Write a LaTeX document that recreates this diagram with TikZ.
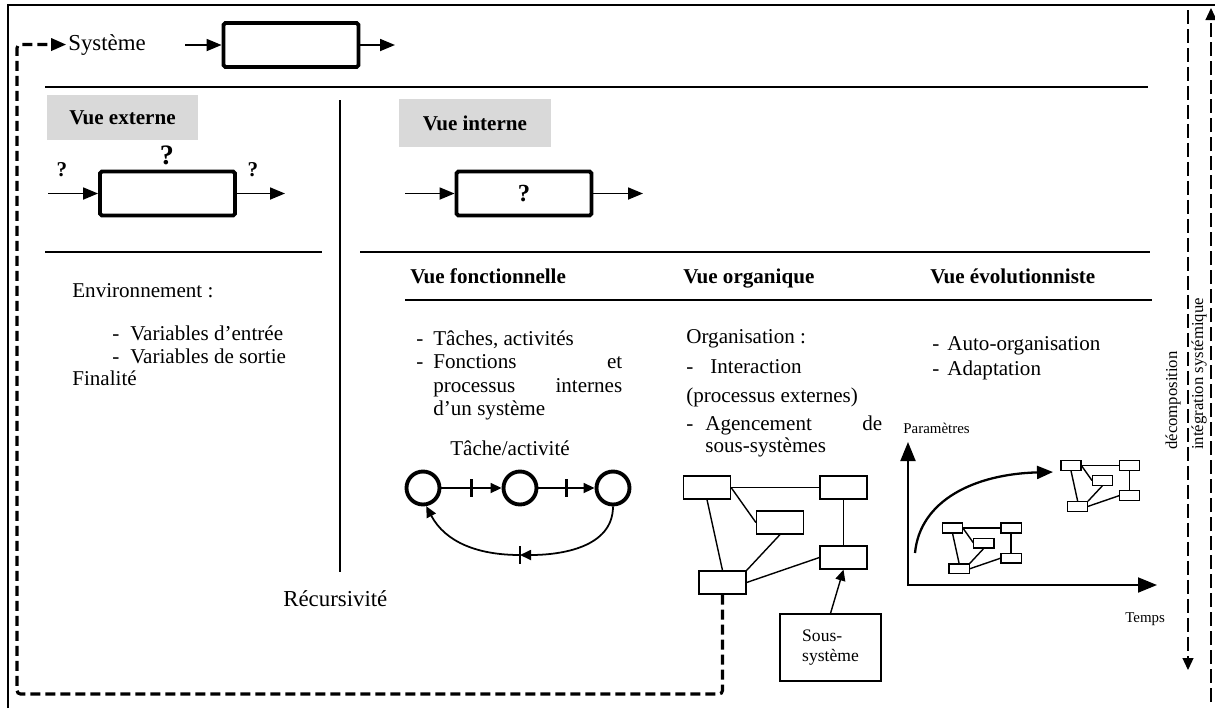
\documentclass[tikz,border=0pt]{standalone}
\usepackage{fontspec}
\setmainfont{Liberation Serif}
\usepackage{tikz}
\usetikzlibrary{arrows.meta}
\tikzset{
	big box/.style={draw,line width=2.2pt,rounded corners=1pt,minimum width=2.7cm,
		minimum height=0.88cm,inner sep=0pt},
	view head/.style={fill=black!15,font=\fontsize{12}{14}\selectfont\bfseries,
		minimum width=3.02cm,minimum height=0.9cm},
	place node/.style={circle,draw,line width=2.2pt,minimum size=0.66cm,inner sep=0pt},
	sub box/.style={draw,line width=0.7pt,minimum width=0.94cm,minimum height=0.46cm,inner sep=0pt},
	txt/.style={font=\fontsize{12}{14}\selectfont,inner sep=0pt,anchor=base west},
	head txt/.style={txt,font=\fontsize{12}{14}\selectfont\bfseries},
	small txt/.style={txt,font=\fontsize{8.5}{10}\selectfont},
	side txt/.style={rotate=90,anchor=west,inner sep=0pt,font=\fontsize{9.5}{11}\selectfont},
	bar/.style={fill,inner sep=0pt,minimum width=1.2pt,minimum height=0.36cm},
	rec line/.style={line width=1.8pt,dash pattern=on 0.2cm off 0.1cm,rounded corners=2pt},
	side line/.style={line width=0.7pt,dash pattern=on 0.28cm off 0.1cm,
		>={Triangle[length=0.24cm,width=0.22cm]}},
	small tip/.style={>={Triangle[length=0.22cm,width=0.2cm]}},
	large tip/.style={>={Triangle[length=0.38cm,width=0.3cm]}}
}
\newcommand{\tiret}[1]{\makebox[#1][l]{-}}
\newcommand{\subnet}[3]{%
	\begin{scope}[shift={#2},scale=#3,transform shape,line width=0.8pt]
		\node[sub box] (#1a) at (0,0) {};
		\node[sub box] (#1b) at (136.5,0) {};
		\node[sub box] (#1c) at (73,35) {};
		\node[sub box] (#1d) at (136.5,70) {};
		\node[sub box] (#1e) at (15.5,95) {};
		\draw (#1a.east) -- (#1b.west);
		\draw (#1a.east) -- (#1c.west);
		\draw (#1a.south) -- (#1e.north);
		\draw (#1c.south) -- (#1e.north east);
		\draw (#1e.east) -- (#1d.west);
		\draw (#1b.south) -- (#1d.north);
	\end{scope}}

\begin{document}
\begin{tikzpicture}[x=0.02cm,y=-0.02cm,>={Triangle[length=0.3cm,width=0.24cm]}]
	\useasboundingbox (0,0) rectangle (1215,708);
	\draw[line width=0.8pt] (8,708) -- (8,5) -- (1215,5);

	\node[txt,font=\fontsize{13}{15}\selectfont] (sys) at (68,50) {Système};
	\node[big box] (box) at (291,45) {};
	\coordinate (boxin) at (185,45);
	\coordinate (boxout) at (395,45);
	\draw[->,line width=1pt] (boxin) -- (box);
	\draw[->,line width=1pt] (box) -- (boxout);

	\draw[line width=1.1pt] (45,87) -- (1148,87);
	\draw[line width=1.1pt] (45,252) -- (322,252);
	\draw[line width=1.1pt] (360,252) -- (1150,252);
	\draw[line width=1.1pt] (405,300) -- (1152,300);
	\draw[line width=0.9pt] (340,100) -- (340,572);

	\node[view head] (ext) at (122.5,117.5) {Vue externe};
	\node[big box] (extbox) at (167.5,193.5) {};
	\coordinate (extin) at (48,193.5);
	\coordinate (extout) at (285,193.5);
	\draw[->,line width=1pt] (extin) -- (extbox);
	\draw[->,line width=1pt] (extbox) -- (extout);
	\node[font=\fontsize{12}{14}\selectfont\bfseries] (q1) at (62,170) {?};
	\node[font=\fontsize{16}{18}\selectfont\bfseries] (q2) at (167,155) {?};
	\node[font=\fontsize{12}{14}\selectfont\bfseries] (q3) at (253,170) {?};

	\node[view head,minimum width=3.04cm,minimum height=0.96cm] (int) at (475,123) {Vue interne};
	\node[big box,font=\fontsize{14}{16}\selectfont\bfseries] (intbox) at (524,193.5) {?};
	\coordinate (intin) at (405,193.5);
	\coordinate (intout) at (643,193.5);
	\draw[->,line width=1pt] (intin) -- (intbox);
	\draw[->,line width=1pt] (intbox) -- (intout);

	\node[txt] (env) at (72,297) {Environnement :};
	\node[txt] (var1) at (112,340) {\tiret{0.36cm}Variables d'entrée};
	\node[txt] (var2) at (112,363) {\tiret{0.36cm}Variables de sortie};
	\node[txt] (fin) at (72,385) {Finalité};

	\node[head txt] (fonc) at (410,283) {Vue fonctionnelle};
	\node[txt] (f1) at (416,345) {\tiret{0.34cm}Tâches, activités};
	\node[txt] (f2) at (416,368) {\tiret{0.34cm}\makebox[3.78cm]{Fonctions\hfill et}};
	\node[txt] (f3) at (433,392) {\makebox[3.78cm]{processus\hfill internes}};
	\node[txt] (f4) at (433,415) {d'un système};
	\node[txt,anchor=base] (tache) at (510,455) {Tâche/activité};
	\node[place node] (p1) at (423,488) {};
	\node[place node] (p2) at (520,488) {};
	\node[place node] (p3) at (613,488) {};
	\draw[->,line width=1pt,small tip] (p1) -- node[bar] (t1) {} (p2);
	\draw[->,line width=1pt,small tip] (p2) -- node[bar] (t2) {} (p3);
	\coordinate (loopmid) at (520,555);
	\draw[->,line width=1pt,small tip] (p3.south) to[out=-90,in=0] (loopmid);
	\draw[->,line width=1pt,small tip] (loopmid) to[out=180,in=-62] (p1.-80);
	\node[bar] (t3) at (loopmid) {};

	\node[head txt] (orga) at (683,283) {Vue organique};
	\node[txt] (o1) at (686,343) {Organisation :};
	\node[txt] (o2) at (686,373) {\tiret{0.48cm}Interaction};
	\node[txt] (o3) at (686,402) {(processus externes)};
	\node[txt] (o4) at (686,430) {\tiret{0.38cm}\makebox[3.54cm]{Agencement\hfill de}};
	\node[txt] (o5) at (705,452) {sous-systèmes};
	\subnet{org}{(707,487.5)}{1}
	\node[sub box,minimum width=2.02cm,minimum height=1.34cm,align=left,
		font=\fontsize{10}{11.3}\selectfont] (sous) at (830.5,647.5) {Sous-\\système};
	\draw[->,line width=0.8pt,small tip] (sous.north) -- (orgd.south);

	\coordinate (recbas) at (17,694);
	\draw[->,rec line,shorten >=1pt] (orge.south) |- (recbas) |- (sys.west);
	\node[txt,font=\fontsize{13}{15}\selectfont] (rec) at (283,606) {Récursivité};

	\node[head txt] (evo) at (930,283) {Vue évolutionniste};
	\node[txt] (e1) at (932,350) {\tiret{0.3cm}Auto-organisation};
	\node[txt] (e2) at (932,375) {\tiret{0.3cm}Adaptation};
	\node[small txt] (param) at (903,433) {Paramètres};
	\node[small txt] (temps) at (1125,622) {Temps};
	\coordinate (origine) at (908,585);
	\coordinate (haut) at (908,442);
	\coordinate (droite) at (1157,585);
	\draw[<->,line width=1.1pt,large tip] (haut) -- (origine) -- (droite);
	\coordinate (depart) at (915,553);
	\coordinate (arrivee) at (1053,472);
	\draw[->,line width=1.3pt,>={Triangle[length=0.32cm,width=0.26cm]}]
		(depart) .. controls (920,500) and (975,474) .. (arrivee);
	\subnet{ea}{(952.5,528)}{0.43}
	\subnet{eb}{(1071,465.5)}{0.43}

	\coordinate (decohaut) at (1188,10);
	\coordinate (decobas) at (1188,670);
	\coordinate (intebas) at (1211,702);
	\coordinate (intehaut) at (1211,8);
	\draw[->,side line] (decohaut) -- (decobas);
	\draw[->,side line] (intebas) -- (intehaut);
	\node[side txt] (deco) at (1173,450) {décomposition};
	\node[side txt] (inte) at (1199,450) {intégration systémique};
\end{tikzpicture}
\end{document}
